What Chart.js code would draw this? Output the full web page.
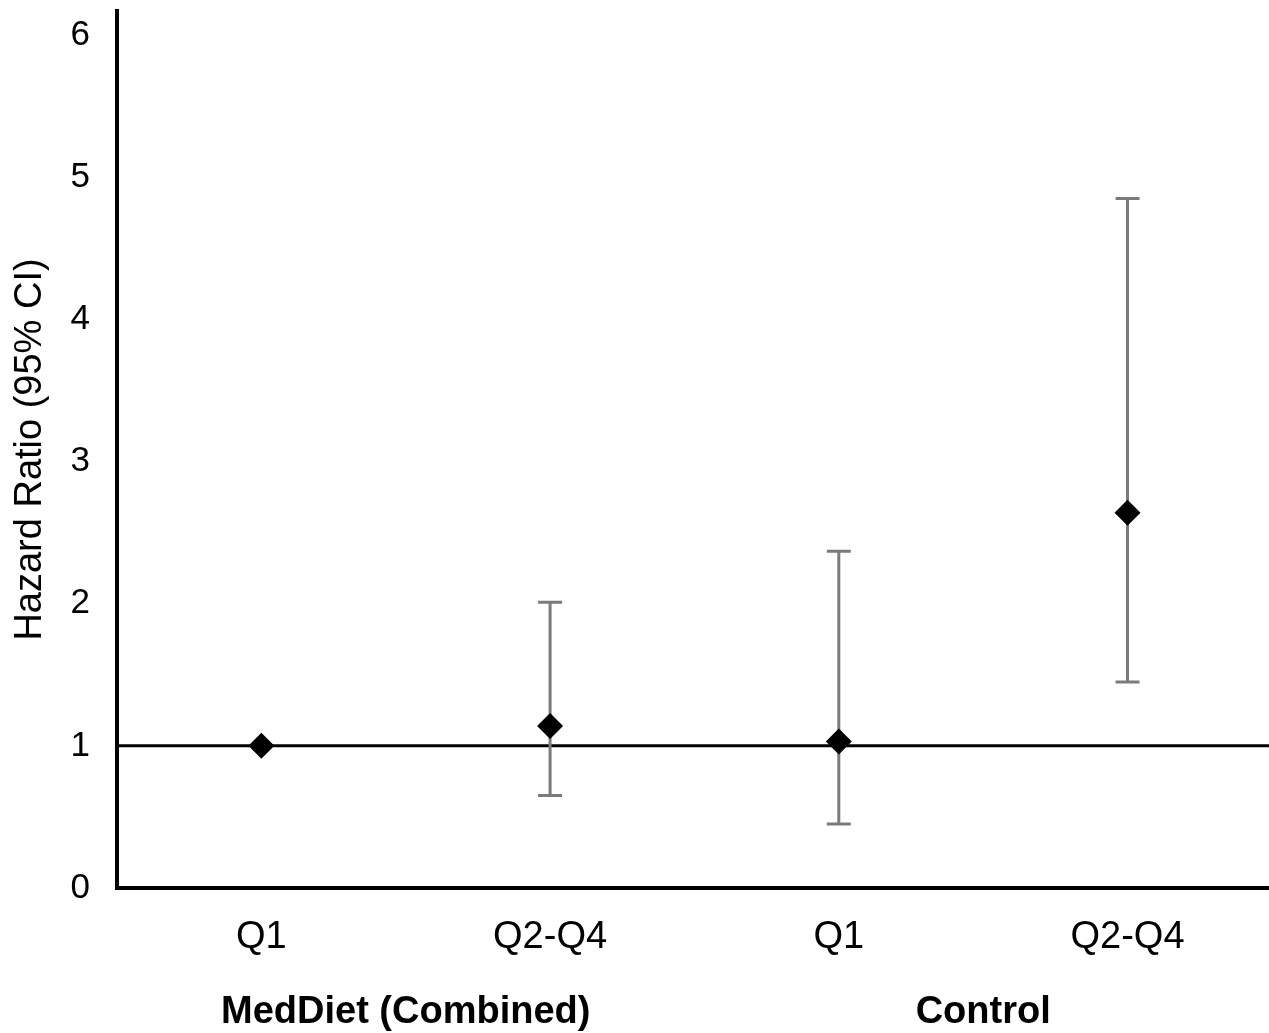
<!DOCTYPE html>
<html>
<head>
<meta charset="utf-8">
<title>Hazard Ratio (95% CI)</title>
<script src="https://cdn.jsdelivr.net/npm/chart.js@4.4.1/dist/chart.umd.min.js"></script>
<style>
  html, body { margin: 0; padding: 0; background: #fff; overflow: hidden; }
  #wrap { width: 1269px; height: 1033px; position: relative; }
</style>
</head>
<body>
<div id="wrap"><canvas id="hrChart"></canvas></div>
<script>
const categories = ['Q1', 'Q2-Q4', 'Q1', 'Q2-Q4'];
const groupOf = [0, 0, 1, 1];
const groupLabels = ['MedDiet (Combined)', 'Control'];
const hazardRatio = [1.0, 1.14, 1.03, 2.64];
const ciLower = [null, 0.65, 0.45, 1.45];
const ciUpper = [null, 2.01, 2.37, 4.85];
const yTicks = [0, 1, 2, 3, 4, 5, 6];
const referenceValue = 1;

const FONT = '"Liberation Sans", Arial, sans-serif';

// draws the line at HR = 1 and the CI whiskers under the diamonds
const errorBars = {
  id: 'errorBars',
  beforeDatasetsDraw(chart) {
    const { ctx, chartArea, scales: { x, y } } = chart;
    ctx.save();
    // reference line
    const yRef = y.getPixelForValue(referenceValue);
    ctx.strokeStyle = '#000';
    ctx.lineWidth = 3;
    ctx.beginPath();
    ctx.moveTo(chartArea.left, yRef);
    ctx.lineTo(chartArea.right, yRef);
    ctx.stroke();

    ctx.strokeStyle = '#7b7b7b';
    ctx.lineWidth = 3;
    ciLower.forEach((lo, i) => {
      const hi = ciUpper[i];
      if (lo == null || hi == null) return;
      const px = x.getPixelForValue(i);
      const yLo = y.getPixelForValue(lo);
      const yHi = y.getPixelForValue(hi);
      ctx.beginPath();
      ctx.moveTo(px, yLo);
      ctx.lineTo(px, yHi);
      ctx.moveTo(px - 12, yLo);
      ctx.lineTo(px + 12, yLo);
      ctx.moveTo(px - 12, yHi);
      ctx.lineTo(px + 12, yHi);
      ctx.stroke();
    });
    ctx.restore();
  }
};

// bold group captions under the tick labels
const groupCaptions = {
  id: 'groupCaptions',
  afterDraw(chart) {
    const { ctx, scales: { x } } = chart;
    ctx.save();
    ctx.font = 'bold 38px ' + FONT;
    ctx.fillStyle = '#000';
    ctx.textAlign = 'center';
    ctx.textBaseline = 'alphabetic';
    groupLabels.forEach((label, g) => {
      const members = categories.map((_, i) => i).filter(i => groupOf[i] === g);
      const cx = members.reduce((s, i) => s + x.getPixelForValue(i), 0) / members.length;
      ctx.fillText(label, cx, x.bottom - 10);
    });
    ctx.restore();
  }
};

const hrChart = new Chart(document.getElementById('hrChart'), {
  type: 'scatter',
  data: {
    datasets: [{
      label: 'Hazard Ratio',
      data: hazardRatio.map((v, i) => ({ x: i, y: v })),
      pointStyle: 'rectRot',
      pointRadius: 13,
      pointHoverRadius: 13,
      backgroundColor: '#000',
      borderColor: '#000',
      borderWidth: 0,
      showLine: false,
      clip: false
    }]
  },
  options: {
    responsive: true,
    maintainAspectRatio: false,
    animation: false,
    layout: { autoPadding: false, padding: { top: 11, right: 0, left: 0, bottom: 0 } },
    plugins: {
      legend: { display: false },
      tooltip: { enabled: false }
    },
    scales: {
      x: {
        type: 'linear',
        min: -0.5,
        max: 3.49,
        grid: { display: false },
        border: { display: true, color: '#000', width: 4 },
        afterBuildTicks: s => { s.ticks = categories.map((_, i) => ({ value: i })); },
        afterFit: s => { s.height = 145; s.paddingLeft = 0; s.paddingRight = 0; },
        ticks: {
          padding: 19,
          color: '#000',
          autoSkip: false,
          maxRotation: 0,
          font: { family: FONT, size: 38 },
          callback: v => categories[v]
        }
      },
      y: {
        min: 0,
        max: 6.17,
        grid: { display: false },
        border: { display: true, color: '#000', width: 4 },
        afterBuildTicks: s => { s.ticks = yTicks.map(v => ({ value: v })); },
        afterFit: s => { s.width = 117; s.paddingTop = 0; s.paddingBottom = 0; },
        ticks: {
          padding: 19,
          color: '#000',
          font: { family: FONT, size: 35 }
        },
        title: {
          display: true,
          text: 'Hazard Ratio (95% CI)',
          color: '#000',
          padding: { top: 8, bottom: 0 },
          font: { family: FONT, size: 38 }
        }
      }
    }
  },
  plugins: [errorBars, groupCaptions]
});
</script>
</body>
</html>
